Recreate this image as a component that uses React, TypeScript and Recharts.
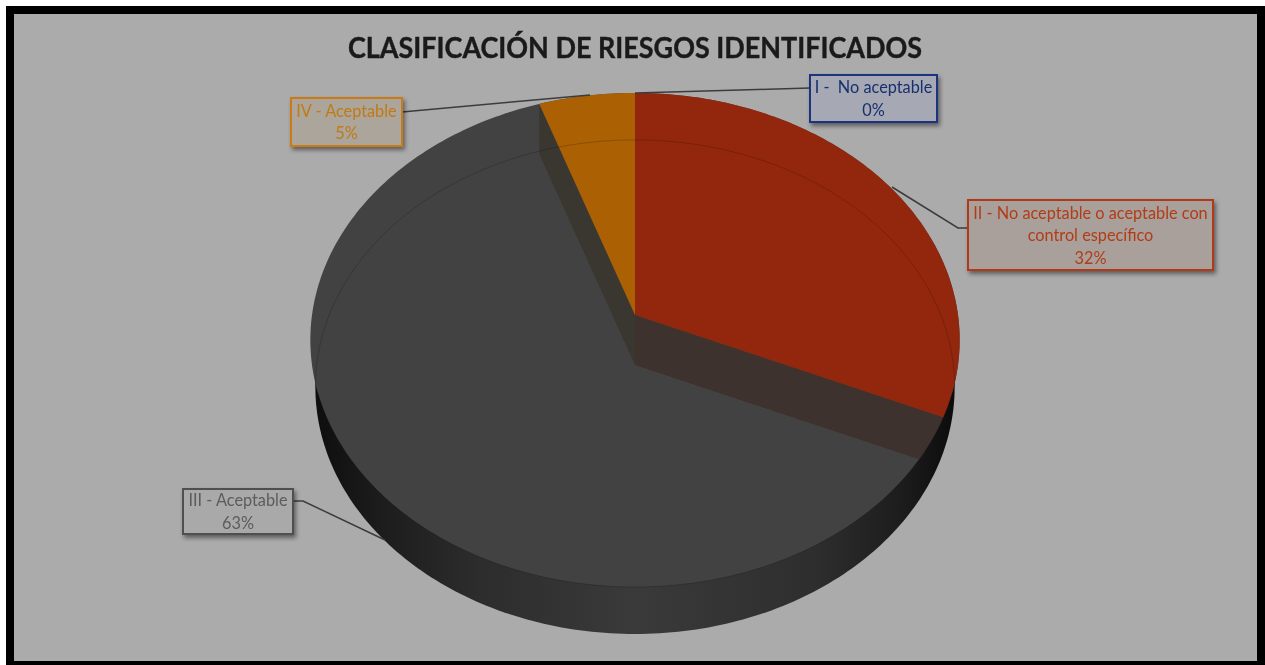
import React from 'react';
import { Pie, PieChart } from 'recharts';

const categories = ['I -  No aceptable', 'II - No aceptable o aceptable con control específico', 'III - Aceptable', 'IV - Aceptable'];
const riskCounts = [0, 6, 12, 1];
const sliceColors = ['#1f3f8f', '#93270d', '#424242', '#aa6003'];
const textColors = ['#16306f', '#b23c16', '#5c5c5c', '#c27a12'];
const borderColors = ['#1c3480', '#b03a18', '#4f4f4f', '#cc7a14'];
const boxFills = ['#a6a9b3', '#aaa09b', '#a9a9a9', '#aba59b'];
const labelLines = [['I -  No aceptable'], ['II - No aceptable o aceptable con', 'control específico'], ['III - Aceptable'], ['IV - Aceptable']];
const labelBoxes = [
  { x: 810, y: 75, w: 127, h: 47 },
  { x: 968, y: 200, w: 245, h: 70 },
  { x: 183, y: 489, w: 110, h: 45 },
  { x: 291, y: 98, w: 111, h: 48 },
];
const leaders = [
  '810,88 635,93',
  '968,228 958,228 892,187',
  '293,501 303,501 385,540',
  '402,112 590,95',
];
const TITLE = 'CLASIFICACIÓN DE RIESGOS IDENTIFICADOS';

const pieData = categories.map((name, i) => ({ name, value: riskCounts[i], fill: sliceColors[i] }));

const FLAT = 0.757;
const PERSPECTIVE = -0.101;
const DEPTH = 47;
const LOWER_RADIUS = 318;
const RIM_CROSSING = 390;

// same tilt as the excel 3d pie: circle pushed through a small perspective
const project = (cx: number, cy: number, rx: number, ry: number, angle: number) => {
  const a = (angle * Math.PI) / 180;
  const u = Math.cos(a);
  const v = -Math.sin(a);
  const w = 1 + PERSPECTIVE * v;
  return { x: cx + (rx * u) / w, y: cy + (ry * v) / w };
};

const toPath = (pts: { x: number; y: number }[], close = true) =>
  pts.map((p, i) => `${i ? 'L' : 'M'}${p.x.toFixed(2)},${p.y.toFixed(2)}`).join(' ') + (close ? ' Z' : '');

const rim = (cx: number, cy: number, rx: number, ry: number, from = 0, to = 360) => {
  const pts = [];
  const step = from < to ? 1 : -1;
  for (let a = from; step > 0 ? a < to : a > to; a += step) pts.push(project(cx, cy, rx, ry, a));
  pts.push(project(cx, cy, rx, ry, to));
  return pts;
};

const BaseSlice = (props: any) => {
  const { cx, cy, outerRadius, name } = props;
  if (name !== categories[2]) return <g />;
  const ry = outerRadius * FLAT;
  return (
    <g>
      <defs>
        <linearGradient id="band" x1="0" y1="0" x2="1" y2="0">
          <stop offset="0" stopColor="#0e0e0e" />
          <stop offset="0.1" stopColor="#1c1c1c" />
          <stop offset="0.25" stopColor="#2c2c2c" />
          <stop offset="0.5" stopColor="#3a3a3a" />
          <stop offset="0.78" stopColor="#2e2e2e" />
          <stop offset="0.92" stopColor="#1c1c1c" />
          <stop offset="1" stopColor="#0c0c0c" />
        </linearGradient>
        <clipPath id="topFace">
          <path d={toPath(rim(cx, cy, outerRadius, ry))} />
        </clipPath>
      </defs>
      <path d={toPath(rim(cx, cy + DEPTH, LOWER_RADIUS, ry))} fill="url(#band)" />
      <path d={toPath(rim(cx, cy, outerRadius, ry))} fill={sliceColors[2]} />
    </g>
  );
};

const TopSlice = (props: any) => {
  const { cx, cy, outerRadius, startAngle, endAngle, name, fill } = props;
  if (name === categories[2] || startAngle === endAngle) return <g />;
  const ry = outerRadius * FLAT;
  const apex = { x: cx, y: cy };
  const isRed = name === categories[1];
  const cutAngle = isRed ? endAngle : startAngle;
  const outer = project(cx, cy, outerRadius, ry, cutAngle);
  const wall = [apex, { x: cx, y: cy + DEPTH + 3 }, { x: outer.x, y: outer.y + DEPTH + 3 }, outer];
  const backArc = rim(cx, cy + DEPTH, LOWER_RADIUS, ry, 0, 360).filter((p) => p.y < RIM_CROSSING);
  const backLeft = backArc.filter((p) => p.x < cx).sort((a, b) => b.y - a.y);
  const backRight = backArc.filter((p) => p.x >= cx).sort((a, b) => a.y - b.y);
  const frontArc = rim(cx, cy, outerRadius, ry, 180, 360).filter((p) => p.y > RIM_CROSSING);
  return (
    <g>
      <path d={toPath(wall)} fill={isRed ? '#3d322d' : '#3a3730'} clipPath="url(#topFace)" />
      <path d={toPath([apex, ...rim(cx, cy, outerRadius, ry, startAngle, endAngle)])} fill={fill} />
      {!isRed && (
        <g fill="none" stroke="#000" strokeOpacity={0.18} strokeWidth={1}>
          <path d={toPath([...backLeft, ...backRight], false)} />
          <path d={toPath(frontArc, false)} />
        </g>
      )}
    </g>
  );
};

const renderBox = (props: any) => {
  const { index, percent } = props;
  const box = labelBoxes[index];
  const lines = [...labelLines[index], `${Math.round(percent * 100)}%`];
  const mid = box.x + box.w / 2;
  const lineH = 22.5;
  const top = box.y + box.h / 2 - ((lines.length - 1) * lineH) / 2 + 6;
  return (
    <g key={index}>
      <polyline points={leaders[index]} fill="none" stroke="#3c3c3c" strokeWidth={1.5} />
      <rect
        x={box.x}
        y={box.y}
        width={box.w}
        height={box.h}
        fill={boxFills[index]}
        stroke={borderColors[index]}
        strokeWidth={2}
        style={{ filter: 'drop-shadow(2px 3px 2px rgba(0,0,0,0.45))' }}
      />
      {lines.map((line, i) => (
        <text
          key={i}
          x={mid}
          y={top + i * lineH}
          textAnchor="middle"
          fill={textColors[index]}
          fontFamily="Lato"
          fontSize={16.3}
          style={{ whiteSpace: 'pre' }}
        >
          {line}
        </text>
      ))}
    </g>
  );
};

export default function App() {
  return (
    <div style={{ position: 'absolute', left: 0, top: 0, width: 1265, height: 665, background: '#fff', overflow: 'hidden' }}>
      <div style={{ position: 'absolute', left: 6, top: 6, width: 1259, height: 659, background: '#000' }} />
      <div style={{ position: 'absolute', left: 14, top: 14, width: 1243, height: 647, background: '#ababab' }} />
      <div style={{ position: 'absolute', left: 0, top: 0, filter: 'blur(0.6px)' }}>
        <PieChart width={1265} height={665} margin={{ top: 0, right: 0, bottom: 0, left: 0 }}>
          <text
            x={635}
            y={58}
            textAnchor="middle"
            fontFamily="Lato"
            fontWeight={700}
            fontSize={28.5}
            textLength={574}
            lengthAdjust="spacingAndGlyphs"
            fill="#1a1a1a"
            stroke="#1a1a1a"
            strokeWidth={0.4}
          >
            {TITLE}
          </text>
          <Pie
            data={pieData}
            dataKey="value"
            nameKey="name"
            cx={635}
            cy={315}
            outerRadius={323}
            startAngle={90}
            endAngle={-270}
            stroke="none"
            shape={BaseSlice}
            isAnimationActive={false}
          />
          <Pie
            data={pieData}
            dataKey="value"
            nameKey="name"
            cx={635}
            cy={315}
            outerRadius={323}
            startAngle={90}
            endAngle={-270}
            stroke="none"
            shape={TopSlice}
            label={renderBox}
            labelLine={false}
            isAnimationActive={false}
          />
        </PieChart>
      </div>
    </div>
  );
}
